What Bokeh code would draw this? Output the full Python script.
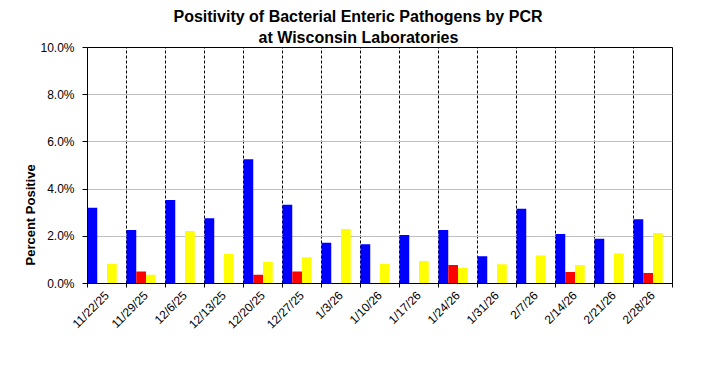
import math
from bokeh.plotting import figure
from bokeh.models import (ColumnDataSource, FixedTicker, PrintfTickFormatter, Title,
                          Legend, LegendItem, Range1d)
from bokeh.transform import dodge
from bokeh.embed import file_html
from bokeh.resources import INLINE

# ---------------- data ----------------
weeks = ["11/22/25", "11/29/25", "12/6/25", "12/13/25", "12/20/25", "12/27/25", "1/3/26",
         "1/10/26", "1/17/26", "1/24/26", "1/31/26", "2/7/26", "2/14/26", "2/21/26", "2/28/26"]
campylobacter = [3.21, 2.27, 3.54, 2.76, 5.27, 3.34, 1.73, 1.66, 2.06, 2.27, 1.15, 3.17, 2.10, 1.90, 2.72]
ecoli_o157 = [0.0, 0.51, 0.0, 0.0, 0.37, 0.51, 0.0, 0.0, 0.0, 0.78, 0.0, 0.0, 0.49, 0.0, 0.45]
salmonella = [0.84, 0.37, 2.22, 1.25, 0.92, 1.11, 2.31, 0.84, 0.95, 0.66, 0.82, 1.19, 0.78, 1.27, 2.14]
shigella = [0.0] * 15
series_names = ["Campylobacter % Pos", "E. coli O157 % Pos", "Salmonella % Pos", "Shigella % Pos"]
series_colors = ["#0000FF", "#FF0000", "#FFFF00", "#006600"]
y_ticks = [0, 2, 4, 6, 8, 10]

title_line1 = "Positivity of Bacterial Enteric Pathogens by PCR"
title_line2 = "at Wisconsin Laboratories"
y_label = "Percent Positive"

FONT = "Liberation Sans"
n = len(weeks)

src = ColumnDataSource(dict(
    idx=[i + 0.5 for i in range(n)],
    camp=campylobacter, ecoli=ecoli_o157, salm=salmonella, shig=shigella,
))

p = figure(frame_width=585, frame_height=236, min_border_left=87, min_border_right=28,
           min_border_top=47, min_border_bottom=10,
           x_range=Range1d(0, n), y_range=Range1d(0, 10),
           output_backend="svg", toolbar_location=None, title=None)
p.background_fill_color = "white"
p.border_fill_color = "white"
p.outline_line_color = "black"
p.outline_line_width = 1

bw = 0.25
cols = ["camp", "ecoli", "salm", "shig"]
renderers = []
for k, (c, col) in enumerate(zip(cols, series_colors)):
    off = (k - 1.5) * bw
    r = p.vbar(x=dodge("idx", off, range=p.x_range), top=c, width=bw, source=src,
               fill_color=col, line_color=None)
    renderers.append(r)

# axes
xa = p.xaxis[0]
xa.ticker = FixedTicker(ticks=[i + 0.5 for i in range(n)], minor_ticks=list(range(n + 1)))
xa.major_label_overrides = {i + 0.5: w for i, w in enumerate(weeks)}
xa.major_label_orientation = math.pi / 4
xa.major_tick_out = 0
xa.major_tick_in = 0
xa.minor_tick_out = 4
xa.minor_tick_in = 0
xa.minor_tick_line_color = "black"
xa.axis_line_color = "black"
xa.major_label_text_font = FONT
xa.major_label_text_font_size = "12px"
xa.major_label_text_color = "black"
xa.major_label_standoff = 6

ya = p.yaxis[0]
ya.ticker = FixedTicker(ticks=y_ticks)
ya.formatter = PrintfTickFormatter(format="%.1f%%")
ya.major_tick_out = 5
ya.major_tick_in = 0
ya.minor_tick_line_color = None
ya.axis_line_color = "black"
ya.major_tick_line_color = "black"
ya.major_label_text_font = FONT
ya.major_label_text_font_size = "12px"
ya.major_label_text_color = "black"
ya.major_label_standoff = 8

# grids
p.xgrid.ticker = FixedTicker(ticks=list(range(1, n)))
p.xgrid.grid_line_color = "black"
p.xgrid.grid_line_dash = "3 2"
p.xgrid.grid_line_width = 1
p.ygrid.grid_line_color = "#c0c0c0"
p.ygrid.grid_line_width = 1

# titles (second line added first so it sits closest to the plot)
p.add_layout(Title(text=title_line2, align="left", offset=171, standoff=4,
                   text_font=FONT, text_font_style="bold", text_font_size="16px",
                   text_color="black"), "above")
p.add_layout(Title(text=title_line1, align="left", offset=86, standoff=0,
                   text_font=FONT, text_font_style="bold", text_font_size="16px",
                   text_color="black"), "above")
p.add_layout(Title(text=y_label, align="left", offset=18, standoff=0,
                   text_font=FONT, text_font_style="bold", text_font_size="13px",
                   text_color="black"), "left")

# legend below
items = [LegendItem(label=name, renderers=[r]) for name, r in zip(series_names, renderers)]
leg = Legend(items=items, orientation="horizontal", location=(-24, 0), nrows=1,
             glyph_width=8, glyph_height=8, label_standoff=2, spacing=41,
             label_text_font=FONT, label_text_font_size="13px", label_text_color="black",
             label_height=20, padding=5, margin=0,
             border_line_color="black", border_line_width=1, background_fill_color="white")
p.add_layout(leg, "below")

open("out.html", "w").write(file_html(p, INLINE))
